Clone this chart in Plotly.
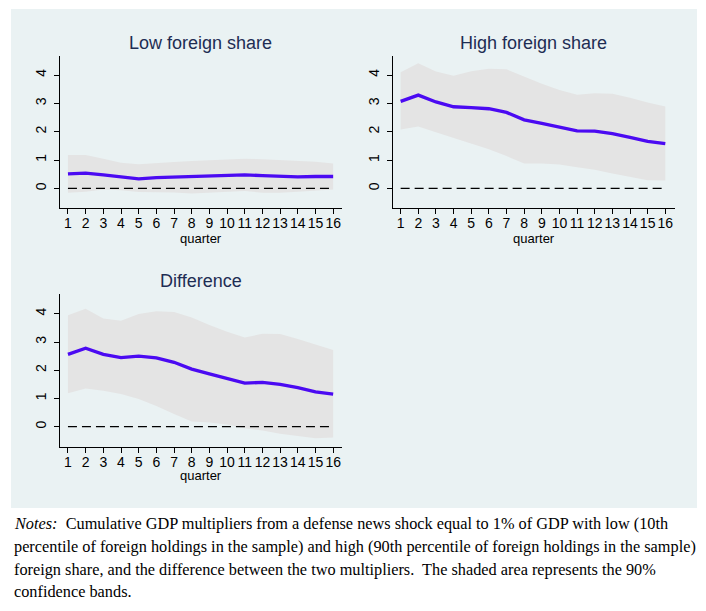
import plotly.graph_objects as go

quarters = list(range(1, 17))

low_irf = [0.51, 0.54, 0.48, 0.41, 0.34, 0.38, 0.40, 0.40, 0.42, 0.46, 0.48, 0.45, 0.42, 0.41, 0.42, 0.42]
low_upper = [1.18, 1.18, 1.05, 0.91, 0.85, 0.90, 0.93, 0.97, 0.99, 1.03, 1.05, 1.03, 1.00, 0.98, 0.94, 0.88]
low_lower = [-0.15, -0.12, -0.04, -0.06, -0.13, -0.14, -0.14, -0.18, -0.15, -0.12, -0.09, -0.15, -0.15, -0.12, -0.07, -0.04]

high_irf = [3.07, 3.29, 3.05, 2.88, 2.85, 2.81, 2.68, 2.42, 2.29, 2.15, 2.03, 2.02, 1.93, 1.80, 1.66, 1.58]
high_upper = [4.10, 4.41, 4.12, 3.97, 4.13, 4.22, 4.20, 3.95, 3.69, 3.47, 3.30, 3.36, 3.34, 3.20, 3.03, 2.89]
high_lower = [2.08, 2.18, 1.98, 1.78, 1.59, 1.38, 1.14, 0.88, 0.88, 0.84, 0.75, 0.66, 0.53, 0.42, 0.29, 0.28]

diff_irf = [2.56, 2.78, 2.56, 2.45, 2.50, 2.44, 2.28, 2.04, 1.87, 1.69, 1.54, 1.57, 1.50, 1.38, 1.23, 1.15]
diff_upper = [3.95, 4.18, 3.83, 3.75, 3.99, 4.09, 4.06, 3.87, 3.60, 3.36, 3.16, 3.29, 3.28, 3.11, 2.91, 2.72]
diff_lower = [1.18, 1.35, 1.27, 1.16, 0.98, 0.73, 0.45, 0.18, 0.15, 0.08, -0.06, -0.14, -0.25, -0.33, -0.41, -0.38]

y_ticks = [0, 1, 2, 3, 4]
titles = ["Low foreign share", "High foreign share", "Difference"]
x_title = "quarter"

notes_lines = [
    "<i>Notes:</i>  Cumulative GDP multipliers from a defense news shock equal to 1% of GDP with low (10th",
    "percentile of foreign holdings in the sample) and high (90th percentile of foreign holdings in the sample)",
    "foreign share, and the difference between the two multipliers.  The shaded area represents the 90%",
    "confidence bands.",
]

W, H = 706, 611


def fx(p):
    return p / W


def fy(p):
    return 1 - p / H


BG = "#EAF2F3"
BAND = "#E4E4E4"
LINE = "#4B0AF2"
TITLE_C = "#1E2D53"

panels = [
    dict(title=titles[0], irf=low_irf, lo=low_lower, up=low_upper,
         xd=(60, 342), yd=(56, 208), xr=(0.55, 16.5), yr=(-0.69, 4.67), tl=43, ql=238),
    dict(title=titles[1], irf=high_irf, lo=high_lower, up=high_upper,
         xd=(392.7, 675), yd=(56, 208), xr=(0.55, 16.55), yr=(-0.69, 4.67), tl=43, ql=238),
    dict(title=titles[2], irf=diff_irf, lo=diff_lower, up=diff_upper,
         xd=(60, 342), yd=(294.3, 446.7), xr=(0.55, 16.5), yr=(-0.71, 4.69), tl=280.5, ql=475),
]

fig = go.Figure()
annotations = []
layout_axes = {}

for i, p in enumerate(panels):
    sfx = "" if i == 0 else str(i + 1)
    xa, ya = "x" + sfx, "y" + sfx
    fig.add_trace(go.Scatter(x=quarters, y=p["up"], mode="lines", line=dict(width=0, color=BAND),
                             showlegend=False, hoverinfo="skip", xaxis=xa, yaxis=ya))
    fig.add_trace(go.Scatter(x=quarters, y=p["lo"], mode="lines", line=dict(width=0, color=BAND),
                             fill="tonexty", fillcolor=BAND,
                             showlegend=False, hoverinfo="skip", xaxis=xa, yaxis=ya))
    fig.add_trace(go.Scatter(x=quarters, y=[0 for _ in quarters], mode="lines",
                             line=dict(width=1.3, color="black", dash="9px,5px"),
                             showlegend=False, hoverinfo="skip", xaxis=xa, yaxis=ya))
    fig.add_trace(go.Scatter(x=quarters, y=p["irf"], mode="lines",
                             line=dict(width=3.3, color=LINE),
                             showlegend=False, xaxis=xa, yaxis=ya))

    layout_axes["xaxis" + sfx] = dict(
        domain=[fx(p["xd"][0]), fx(p["xd"][1])], range=list(p["xr"]), anchor=ya,
        tickvals=quarters, ticktext=[str(q) for q in quarters], tickangle=0,
        ticks="outside", ticklen=5, tickcolor="black", tickwidth=1, ticklabelstandoff=-3,
        showline=True, linecolor="black", linewidth=1, showgrid=False, zeroline=False,
        tickfont=dict(family="Liberation Sans", size=14, color="black"), fixedrange=True,
    )
    layout_axes["yaxis" + sfx] = dict(
        domain=[fy(p["yd"][1]), fy(p["yd"][0])], range=list(p["yr"]), anchor=xa,
        tickvals=y_ticks, ticktext=[str(t) for t in y_ticks], tickangle=-90,
        ticks="outside", ticklen=5, tickcolor="black", tickwidth=1, ticklabelstandoff=2,
        showline=True, linecolor="black", linewidth=1, showgrid=True, gridcolor=BG, gridwidth=1,
        zeroline=False, tickfont=dict(family="Liberation Sans", size=14, color="black"), fixedrange=True,
    )
    cx = fx((p["xd"][0] + p["xd"][1]) / 2)
    annotations.append(dict(text=p["title"], x=cx, y=fy(p["tl"]), xref="paper", yref="paper",
                            xanchor="center", yanchor="middle", showarrow=False,
                            font=dict(family="Liberation Sans", size=18, color=TITLE_C)))
    annotations.append(dict(text=x_title, x=cx, y=fy(p["ql"]), xref="paper", yref="paper",
                            xanchor="center", yanchor="middle", showarrow=False,
                            font=dict(family="Liberation Sans", size=13, color="black")))

note_y = [523, 546, 569, 591]
for txt, yy in zip(notes_lines, note_y):
    annotations.append(dict(text=txt, x=fx(11.5), y=fy(yy), xref="paper", yref="paper",
                            xanchor="left", yanchor="middle", showarrow=False, align="left",
                            font=dict(family="Liberation Serif", size=16.3, color="black")))

fig.update_layout(
    width=W, height=H, margin=dict(l=0, r=0, t=0, b=0),
    paper_bgcolor="white", plot_bgcolor="white",
    annotations=annotations,
    shapes=[dict(type="rect", xref="paper", yref="paper", x0=fx(11), x1=fx(697), y0=fy(508), y1=fy(9),
                 fillcolor=BG, line=dict(width=0), layer="below")],
    **layout_axes,
)

fig.write_html("out.html", config={"displayModeBar": False},
               post_script="document.body.style.margin='0';document.body.style.padding='0';")
